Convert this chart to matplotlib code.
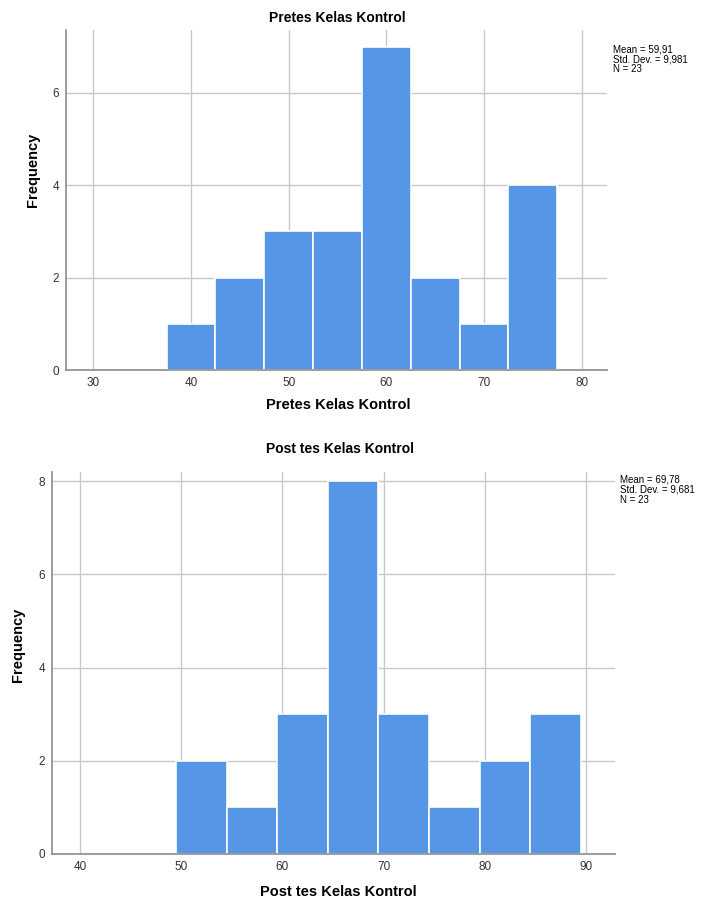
import matplotlib
matplotlib.use("Agg")
import matplotlib.pyplot as plt

plt.rcParams['font.family'] = ['Liberation Sans', 'DejaVu Sans']

# ---- data ----
pre_title = "Pretes Kelas Kontrol"
pre_left_edges = [37.5, 42.5, 47.5, 52.5, 57.5, 62.5, 67.5, 72.5]
pre_counts = [1, 2, 3, 3, 7, 2, 1, 4]
pre_xticks = [30, 40, 50, 60, 70, 80]
pre_yticks = [0, 2, 4, 6]
pre_stats = "Mean = 59,91\nStd. Dev. = 9,981\nN = 23"

post_title = "Post tes Kelas Kontrol"
post_left_edges = [49.5, 54.5, 59.5, 64.5, 69.5, 74.5, 79.5, 84.5]
post_counts = [2, 1, 3, 8, 3, 1, 2, 3]
post_xticks = [40, 50, 60, 70, 80, 90]
post_yticks = [0, 2, 4, 6, 8]
post_stats = "Mean = 69,78\nStd. Dev. = 9,681\nN = 23"

bin_width = 5
bar_color = "#5596E6"
grid_color = "#C8C8C8"
spine_color = "#8C8C8C"

W, H = 704, 901
fig = plt.figure(figsize=(W / 100, H / 100), dpi=100)


def px_axes(x0, y0, x1, y1):
    return fig.add_axes([x0 / W, 1 - y1 / H, (x1 - x0) / W, (y1 - y0) / H])


def draw(ax, edges, counts, xticks, yticks, xlim, ylim):
    ax.bar(edges, counts, width=bin_width, align='edge', color=bar_color,
           edgecolor='white', linewidth=1.2, zorder=3)
    ax.set_xlim(*xlim)
    ax.set_ylim(*ylim)
    ax.set_xticks(xticks)
    ax.set_yticks(yticks)
    ax.grid(True, color=grid_color, linewidth=1.0, zorder=0)
    ax.set_axisbelow(True)
    for s in ['top', 'right']:
        ax.spines[s].set_visible(False)
    for s in ['left', 'bottom']:
        ax.spines[s].set_color(spine_color)
        ax.spines[s].set_linewidth(1.2)
        ax.spines[s].set_zorder(4)
    ax.tick_params(length=0, labelsize=8.5, labelcolor='#333333', pad=5)


# top chart
ax1 = px_axes(66, 30, 607, 370)
draw(ax1, pre_left_edges, pre_counts, pre_xticks, pre_yticks, (27.2, 82.6), (0, 7.36))
fig.text(337 / W, 1 - 18 / H, pre_title, ha='center', va='center', fontsize=10, fontweight='bold')
fig.text(338 / W, 1 - 405 / H, pre_title, ha='center', va='center', fontsize=10.5, fontweight='bold')
fig.text(33 / W, 1 - 170 / H, "Frequency", ha='center', va='center', rotation=90,
         fontsize=10.5, fontweight='bold')
fig.text(613 / W, 1 - 44 / H, pre_stats, ha='left', va='top', fontsize=7, linespacing=1.0)

# bottom chart
ax2 = px_axes(52, 472, 615, 854)
draw(ax2, post_left_edges, post_counts, post_xticks, post_yticks, (37.2, 92.9), (0, 8.2))
fig.text(340 / W, 1 - 449 / H, post_title, ha='center', va='center', fontsize=10, fontweight='bold')
fig.text(338 / W, 1 - 892 / H, post_title, ha='center', va='center', fontsize=10.5, fontweight='bold')
fig.text(18 / W, 1 - 645 / H, "Frequency", ha='center', va='center', rotation=90,
         fontsize=10.5, fontweight='bold')
fig.text(620 / W, 1 - 475 / H, post_stats, ha='left', va='top', fontsize=7, linespacing=1.0)

fig.savefig("out.png", dpi=100)
